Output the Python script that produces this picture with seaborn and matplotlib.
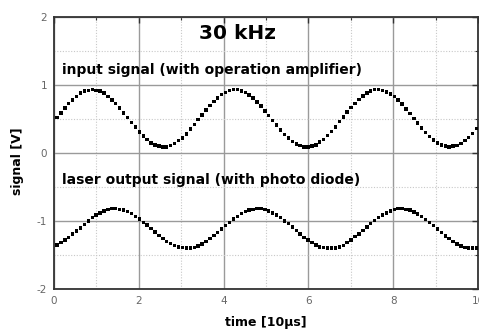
import numpy as np
import pandas as pd
import matplotlib
matplotlib.use("Agg")
import matplotlib.pyplot as plt
import seaborn as sns
from matplotlib.ticker import MultipleLocator

# sampling times (units of 10 µs)
t_start = 0.07
t_step = 0.0925

input_signal = [
    0.52, 0.59, 0.66, 0.73, 0.78, 0.83, 0.88, 0.91, 0.92, 0.93,
    0.92, 0.91, 0.88, 0.83, 0.78, 0.73, 0.66, 0.59, 0.52, 0.45,
    0.38, 0.31, 0.25, 0.20, 0.15, 0.12, 0.10, 0.09, 0.09, 0.11,
    0.14, 0.18, 0.22, 0.28, 0.35, 0.42, 0.49, 0.56, 0.63, 0.70,
    0.76, 0.81, 0.86, 0.89, 0.92, 0.93, 0.93, 0.91, 0.89, 0.85,
    0.81, 0.75, 0.69, 0.62, 0.55, 0.48, 0.41, 0.34, 0.27, 0.22,
    0.17, 0.13, 0.11, 0.09, 0.09, 0.10, 0.12, 0.16, 0.20, 0.26,
    0.32, 0.38, 0.46, 0.53, 0.60, 0.67, 0.73, 0.79, 0.84, 0.88,
    0.91, 0.93, 0.93, 0.92, 0.90, 0.87, 0.83, 0.78, 0.72, 0.65,
    0.58, 0.51, 0.44, 0.37, 0.30, 0.24, 0.19, 0.15, 0.12, 0.10,
    0.09, 0.10, 0.11, 0.14, 0.18, 0.23, 0.29, 0.36,
]

laser_signal = [
    -1.35, -1.32, -1.28, -1.24, -1.19, -1.15, -1.10, -1.05, -1.00, -0.95,
    -0.91, -0.88, -0.85, -0.83, -0.82, -0.82, -0.83, -0.84, -0.86, -0.89,
    -0.93, -0.97, -1.02, -1.06, -1.11, -1.16, -1.21, -1.26, -1.30, -1.33,
    -1.36, -1.38, -1.39, -1.40, -1.40, -1.39, -1.37, -1.34, -1.30, -1.26,
    -1.21, -1.17, -1.12, -1.07, -1.02, -0.97, -0.93, -0.89, -0.86, -0.84,
    -0.83, -0.82, -0.82, -0.83, -0.85, -0.88, -0.91, -0.95, -1.00, -1.04,
    -1.09, -1.14, -1.19, -1.24, -1.28, -1.32, -1.35, -1.38, -1.39, -1.40,
    -1.40, -1.40, -1.38, -1.36, -1.32, -1.28, -1.23, -1.19, -1.14, -1.09,
    -1.04, -0.99, -0.95, -0.91, -0.88, -0.85, -0.83, -0.82, -0.82, -0.83,
    -0.84, -0.87, -0.90, -0.93, -0.98, -1.02, -1.07, -1.12, -1.17, -1.22,
    -1.26, -1.30, -1.34, -1.37, -1.39, -1.40, -1.40, -1.40,
]

time = t_start + t_step * np.arange(len(input_signal))

title_text = "30 kHz"
label_input = "input signal (with operation amplifier)"
label_laser = "laser output signal (with photo diode)"
x_label = "time [10µs]"
y_label = "signal [V]"
x_ticks = [0, 2, 4, 6, 8, 10]
x_tick_labels = ["0", "2", "4", "6", "8", "10"]
y_ticks = [-2, -1, 0, 1, 2]
y_tick_labels = ["-2", "-1", "0", "1", "2"]

df = pd.DataFrame({
    "time": np.concatenate([time, time]),
    "signal": input_signal + laser_signal,
    "series": ["input"] * len(input_signal) + ["laser"] * len(laser_signal),
})

sns.set_theme(style="white")
plt.rcParams["font.family"] = ["DejaVu Sans"]
plt.rcParams["axes.unicode_minus"] = False
plt.rcParams["text.color"] = "black"
plt.rcParams["axes.labelcolor"] = "black"

fig = plt.figure(figsize=(4.79, 3.31), dpi=100)
ax = fig.add_axes([54 / 479, 1 - 289 / 331, (478 - 54) / 479, (289 - 17) / 331])

ax.set_xlim(0, 10)
ax.set_ylim(-2, 2)
ax.xaxis.set_minor_locator(MultipleLocator(1))
ax.yaxis.set_minor_locator(MultipleLocator(0.5))
ax.set_xticks(x_ticks)
ax.set_xticklabels(x_tick_labels)
ax.set_yticks(y_ticks)
ax.set_yticklabels(y_tick_labels)

ax.grid(which="major", color="#9a9a9a", linewidth=1.0, linestyle="-")
ax.grid(which="minor", color="#c8c8c8", linewidth=0.8, linestyle=(0, (1, 1.5)))
ax.set_axisbelow(True)

sns.scatterplot(data=df, x="time", y="signal", hue="series",
                palette={"input": "black", "laser": "black"},
                marker="s", s=6, linewidth=0, legend=False, ax=ax, zorder=3)

for sp in ax.spines.values():
    sp.set_color("#333333")
    sp.set_linewidth(1.3)

ax.tick_params(which="both", direction="in", top=True, right=True,
               labelsize=7.5, labelcolor="#666666", color="#333333")
ax.tick_params(which="major", length=4, width=1, pad=5)
ax.tick_params(which="minor", length=2.5, width=0.8)

ax.set_xlabel(x_label, fontsize=9, fontweight="bold", labelpad=7, color="black")
ax.set_ylabel(y_label, fontsize=9, fontweight="bold", color="black")
ax.yaxis.set_label_coords(-0.07, 0.47)

ax.text(4.33, 1.76, title_text, ha="center", va="center", fontsize=14.5,
        fontweight="bold", color="black")
ax.text(0.2, 1.22, label_input, ha="left", va="center", fontsize=10,
        fontweight="bold", color="black")
ax.text(0.2, -0.40, label_laser, ha="left", va="center", fontsize=10,
        fontweight="bold", color="black")

fig.savefig("out.png", dpi=100)
